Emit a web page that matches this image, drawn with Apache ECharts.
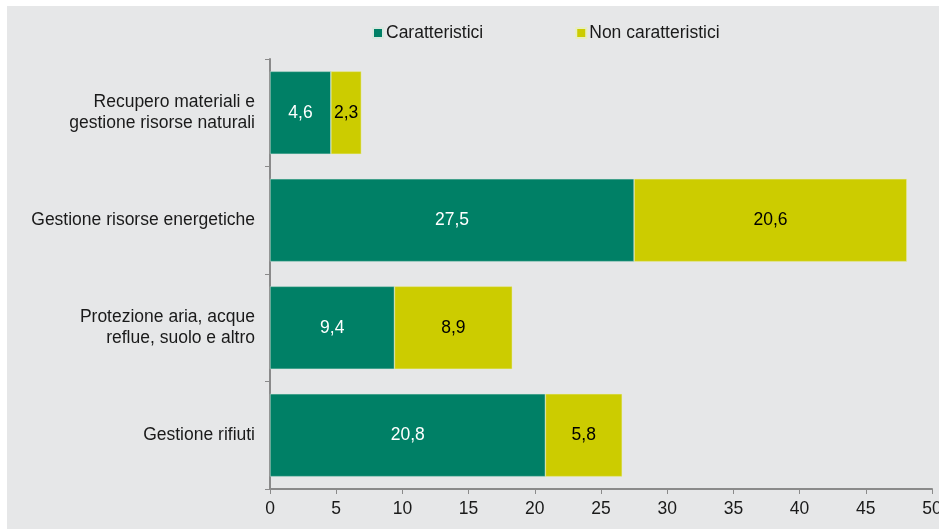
<!DOCTYPE html>
<html>
<head>
<meta charset="utf-8">
<script src="https://cdn.jsdelivr.net/npm/echarts@6/dist/echarts.min.js"></script>
<style>html,body{margin:0;padding:0;background:#fff}#c{width:939px;height:529px}</style>
</head>
<body>
<div id="c"></div>
<script>
var categories = ["Recupero materiali e\ngestione risorse naturali", "Gestione risorse energetiche", "Protezione aria, acque\nreflue, suolo e altro", "Gestione rifiuti"];
var caratteristici = [4.6, 27.5, 9.4, 20.8];
var nonCaratteristici = [2.3, 20.6, 8.9, 5.8];
var xTicks = [0, 5, 10, 15, 20, 25, 30, 35, 40, 45, 50];

var FONT = '"Liberation Sans", Arial, sans-serif';
var FS = 17.5;
var chart = echarts.init(document.getElementById('c'), null, {renderer: 'canvas'});
var fmt = function (p) { return String(p.value).replace('.', ','); };
chart.setOption({
  backgroundColor: '#ffffff',
  animation: false,
  textStyle: {fontFamily: FONT},
  graphic: [{type: 'rect', z: -10, silent: true, shape: {x: 7, y: 6, width: 932, height: 523}, style: {fill: '#e6e7e8'}}],
  legend: {
    top: 19, left: 367, itemWidth: 10, itemHeight: 10, itemGap: 92,
    icon: 'rect',
    textStyle: {fontSize: FS, color: '#1a1a1a', fontFamily: FONT, padding: [0, 0, 0, -2]},
    data: ['Caratteristici', 'Non caratteristici']
  },
  grid: {left: 270, right: 7, top: 59, bottom: 40, containLabel: false, outerBoundsMode: 'none'},
  xAxis: {
    type: 'value', min: 0, max: 50, interval: 5,
    axisLine: {show: true, lineStyle: {color: '#8a8a8a', width: 2}},
    axisTick: {show: true, length: 5, lineStyle: {color: '#8a8a8a'}},
    splitLine: {show: false},
    axisLabel: {fontSize: FS, color: '#1a1a1a', margin: 11, showMaxLabel: true, hideOverlap: false,
      formatter: function (v) { return xTicks.indexOf(v) >= 0 ? String(v) : ''; }}
  },
  yAxis: {
    type: 'category', data: categories, inverse: true,
    axisLine: {show: true, lineStyle: {color: '#8a8a8a', width: 2}},
    axisTick: {show: true, length: 5, lineStyle: {color: '#8a8a8a'}},
    axisLabel: {fontSize: FS, color: '#1a1a1a', margin: 15, lineHeight: 21, align: 'right'}
  },
  series: [
    {name: 'Caratteristici', type: 'bar', stack: 's', data: caratteristici, barWidth: '77%',
      itemStyle: {color: '#008066', borderColor: '#d8e8e0', borderWidth: 0.5},
      label: {show: true, position: 'inside', color: '#ffffff', fontSize: FS, fontFamily: FONT, formatter: fmt}},
    {name: 'Non caratteristici', type: 'bar', stack: 's', data: nonCaratteristici, barWidth: '77%',
      itemStyle: {color: '#cccc00', borderColor: '#e8eec0', borderWidth: 0.5},
      label: {show: true, position: 'inside', color: '#000000', fontSize: FS, fontFamily: FONT, formatter: fmt}}
  ]
});
</script>
</body>
</html>
